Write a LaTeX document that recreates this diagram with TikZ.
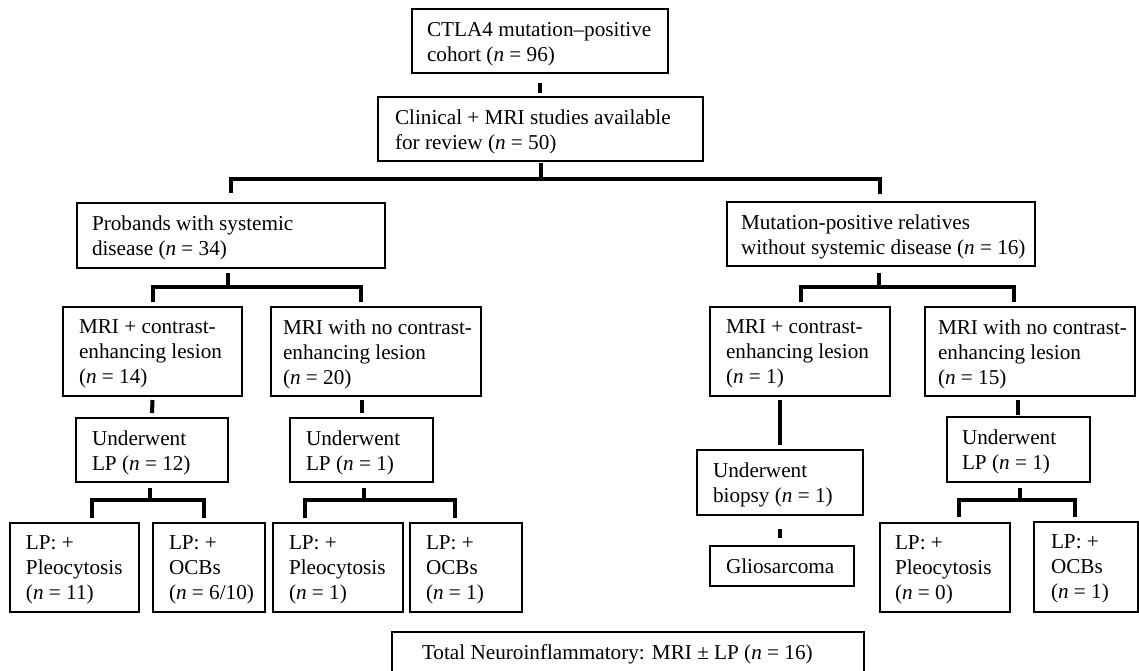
\documentclass[tikz,border=0pt]{standalone}
\usepackage{fontspec}
\setmainfont{Liberation Serif}
\usetikzlibrary{calc}
\tikzset{
  box/.style={draw, line width=1.1pt, anchor=north west, inner sep=0pt, outer sep=0pt},
  txt/.style={anchor=north west, inner sep=0pt, outer sep=0pt, align=left, font=\fontsize{15.9pt}{18.75pt}\selectfont},
  conn/.style={line width=3pt, line cap=butt, line join=miter},
}
\newcommand\flowbox[7]{%
  \pgfmathsetlengthmacro\flbw{(#4-#2)*0.75}%
  \pgfmathsetlengthmacro\flbh{(#5-#3)*0.75}%
  \node[box, minimum width=\flbw, minimum height=\flbh] (#1) at (#2,#3) {};
  \node[txt] (#1t) at (#6,#3+13) {#7};
}
\begin{document}
\begin{tikzpicture}[x=0.75pt, y=-0.75pt]
\fill[white] (0,0) rectangle (1139,671);
\useasboundingbox (0,0) rectangle (1139,671);

\flowbox{top}{412}{9}{668}{73}{427}{CTLA4 mutation–positive\\cohort (\textit{n} = 96)}
\flowbox{clin}{378}{97}{703}{161}{395}{Clinical + MRI studies available\\for review (\textit{n} = 50)}
\flowbox{prob}{77}{203}{385}{268}{92}{Probands with systemic\\disease (\textit{n} = 34)}
\flowbox{mut}{727}{202}{1035}{266}{741}{Mutation-positive relatives\\without systemic disease (\textit{n} = 16)}
\flowbox{mriL}{63}{307}{242}{396}{79}{MRI + contrast-\\enhancing lesion\\(\textit{n} = 14)}
\flowbox{mrinL}{271}{307}{481}{396}{283}{MRI with no contrast-\\enhancing lesion\\(\textit{n} = 20)}
\flowbox{mriR}{710}{307}{890}{396}{726}{MRI + contrast-\\enhancing lesion\\(\textit{n} = 1)}
\flowbox{mrinR}{925}{307}{1135}{396}{938}{MRI with no contrast-\\enhancing lesion\\(\textit{n} = 15)}
\flowbox{lpA}{76}{418}{228}{482}{92}{Underwent\\LP (\textit{n} = 12)}
\flowbox{lpB}{290}{418}{433}{482}{306}{Underwent\\LP (\textit{n} = 1)}
\flowbox{bio}{697}{450}{863}{515}{713}{Underwent\\biopsy (\textit{n} = 1)}
\flowbox{glio}{710}{546}{854}{586}{726}{Gliosarcoma}
\flowbox{lpR}{947}{417}{1090}{482}{962}{Underwent\\LP (\textit{n} = 1)}
\flowbox{pA}{10}{523}{139}{612}{26}{LP: +\\Pleocytosis\\(\textit{n} = 11)}
\flowbox{oA}{153}{523}{265}{612}{169}{LP: +\\OCBs\\(\textit{n} = 6/10)}
\flowbox{pB}{273}{523}{403}{612}{289}{LP: +\\Pleocytosis\\(\textit{n} = 1)}
\flowbox{oB}{410}{523}{522}{612}{426}{LP: +\\OCBs\\(\textit{n} = 1)}
\flowbox{pR}{880}{523}{1010}{612}{895}{LP: +\\Pleocytosis\\(\textit{n} = 0)}
\flowbox{oR}{1034}{522}{1138}{612}{1051}{LP: +\\OCBs\\(\textit{n} = 1)}
\flowbox{total}{392}{632}{864}{700}{422}{Total Neuroinflammatory: MRI ± LP (\textit{n} = 16)}

% connectors
\draw[conn] ($(top.south)+(0,10)$) -- ($(top.south)+(0,20)$);
\draw[conn] ($(clin.south)+(0,2)$) -- ($(clin.south)+(0,18)$);
\draw[conn] ($(prob.north)+(0,-10)$) -- ++(0,-14) -| ($(mut.north)+(-1,-8)$);

\draw[conn] ($(prob.south)+(-3,5)$) -- ++(0,14);
\draw[conn] ($(mriL.north)+(0,-5)$) -- ++(0,-15) -| ($(mrinL.north west)+(90,-5)$);

\draw[conn] ($(mut.south)+(-2,7)$) -- ++(0,14);
\draw[conn] ($(mriR.north)+(1,-5)$) -- ++(0,-15) -| ($(mrinR.north west)+(89,-5)$);

\draw[conn] ($(mriL.south)+(0,4)$) -- ($(lpA.north)+(0,-5)$);
\draw[conn] ($(lpB.north)+(0,-5)$) -- ++(0,-13);

\draw[conn] ($(lpA.south)+(-2,6)$) -- ++(0,12);
\draw[conn] ($(pA.north west)+(82,-5)$) -- ++(0,-18) -| ($(oA.north west)+(51,-5)$);
\draw[conn] ($(lpB.south)+(2.5,6)$) -- ++(0,12);
\draw[conn] ($(pB.north west)+(32,-5)$) -- ++(0,-18) -| ($(oB.north west)+(45,-5)$);

\draw[conn] ($(bio.north)+(0,-5)$) -- ++(0,-45);
\draw[conn] ($(bio.south)+(0,14)$) -- ($(glio.north)+(-2,-8)$);

\draw[conn] ($(lpR.north)+(-1,-2)$) -- ++(0,-15);
\draw[conn] ($(lpR.south)+(1.5,6)$) -- ++(0,12);
\draw[conn] ($(pR.north west)+(79,-6)$) -- ++(0,-17) -| ($(oR.north west)+(41,-5)$);
\end{tikzpicture}
\end{document}
